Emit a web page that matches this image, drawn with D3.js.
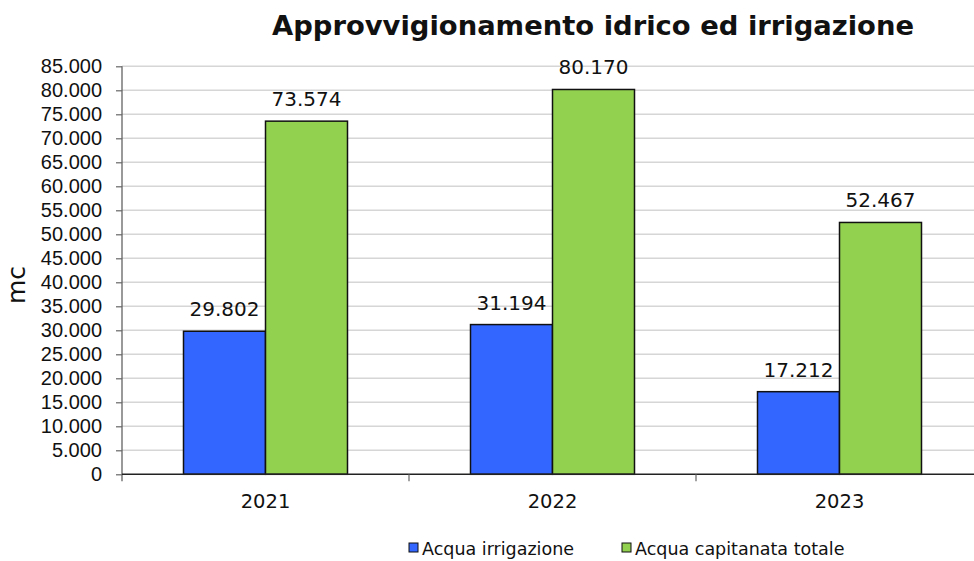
<!DOCTYPE html>
<html>
<head>
<meta charset="utf-8">
<script src="https://cdn.jsdelivr.net/npm/d3@7"></script>
<style>
  body { margin: 0; background: #fff; }
  svg { font-family: "DejaVu Sans", Verdana, sans-serif; }
</style>
</head>
<body>
<svg width="974" height="561"></svg>
<script>
var years = ["2021", "2022", "2023"];
var seriesNames = ["Acqua irrigazione", "Acqua capitanata totale"];
var irrigazione = [29802, 31194, 17212];
var capitanata = [73574, 80170, 52467];
var colors = ["#3366ff", "#92d050"];
var yTicks = d3.range(0, 85001, 5000);

var svg = d3.select("svg");
var fmt = function (v) { return d3.format(",")(v).replace(/,/g, "."); };

var x0 = 122, x1 = 983, yTop = 66.3, yBot = 474.3;

var x = d3.scaleBand().domain(years).range([x0, x1]).paddingInner(0).paddingOuter(0);
var xs = d3.scaleBand().domain([0, 1]).range([0, 164]);
var y = d3.scaleLinear().domain([0, 85000]).range([yBot, yTop]);

// gridlines
svg.append("g").selectAll("line").data(yTicks.slice(1)).enter().append("line")
  .attr("x1", x0).attr("x2", 974)
  .attr("y1", function (d) { return y(d); }).attr("y2", function (d) { return y(d); })
  .style("stroke", "#d6d6d6").style("stroke-width", 1.5);

// bars
var data = years.map(function (yr, i) { return { year: yr, values: [irrigazione[i], capitanata[i]] }; });
var groups = svg.append("g").selectAll("g").data(data).enter().append("g")
  .attr("transform", function (d) { return "translate(" + (x(d.year) + (x.bandwidth() - 164) / 2) + ",0)"; });

groups.selectAll("rect").data(function (d) { return d.values; }).enter().append("rect")
  .attr("x", function (d, i) { return xs(i); })
  .attr("y", function (d) { return y(d); })
  .attr("width", xs.bandwidth())
  .attr("height", function (d) { return yBot - y(d); })
  .style("fill", function (d, i) { return colors[i]; })
  .style("stroke", "#111").style("stroke-width", 1.5);

groups.selectAll("text").data(function (d) { return d.values; }).enter().append("text")
  .attr("x", function (d, i) { return xs(i) + xs.bandwidth() / 2; })
  .attr("y", function (d) { return y(d) - 15; })
  .attr("text-anchor", "middle")
  .style("font-size", "20px").style("fill", "#111")
  .text(function (d) { return fmt(d); });

// y axis
var yAxis = svg.append("g").attr("transform", "translate(" + x0 + ",0)")
  .call(d3.axisLeft(y).tickValues(yTicks).tickSize(6).tickPadding(14).tickFormat(fmt));
yAxis.select(".domain").attr("d", "M0," + yTop + "V" + (yBot + 7)).style("stroke", "#555").style("stroke-width", 1.2);
yAxis.selectAll(".tick line").style("stroke", "#666").style("stroke-width", 1.2);
yAxis.selectAll(".tick text").style("font-size", "20px").style("fill", "#111").attr("font-family", null);

// x axis
svg.append("line").attr("x1", x0).attr("x2", 974).attr("y1", yBot).attr("y2", yBot)
  .style("stroke", "#222").style("stroke-width", 1.5);
var xAxis = svg.append("g").attr("transform", "translate(0," + yBot + ")");
xAxis.selectAll("line").data(years.slice(1)).enter().append("line")
  .attr("x1", function (d) { return x(d); }).attr("x2", function (d) { return x(d); })
  .attr("y1", 0).attr("y2", 7).style("stroke", "#666").style("stroke-width", 1.2);
xAxis.selectAll("text").data(years).enter().append("text")
  .attr("x", function (d) { return x(d) + x.bandwidth() / 2; })
  .attr("y", 34).attr("text-anchor", "middle")
  .style("font-size", "19.5px").style("fill", "#111")
  .text(function (d) { return d; });

// y label
svg.append("text").attr("transform", "translate(25,285) rotate(-90)")
  .attr("text-anchor", "middle").style("font-size", "25px").style("fill", "#111").text("mc");

// title
svg.append("text").attr("x", 593).attr("y", 35).attr("text-anchor", "middle")
  .style("font-size", "27.4px").style("font-weight", "bold").style("fill", "#111")
  .text("Approvvigionamento idrico ed irrigazione");

// legend
var legX = [409, 622];
var leg = svg.append("g").selectAll("g").data(seriesNames).enter().append("g")
  .attr("transform", function (d, i) { return "translate(" + legX[i] + ",543)"; });
leg.append("rect").attr("width", 9).attr("height", 9)
  .style("fill", function (d, i) { return colors[i]; }).style("stroke", "#111").style("stroke-width", 1);
leg.append("text").attr("x", 13).attr("y", 12).style("font-size", "17.5px").style("fill", "#111")
  .text(function (d) { return d; });
</script>
</body>
</html>
